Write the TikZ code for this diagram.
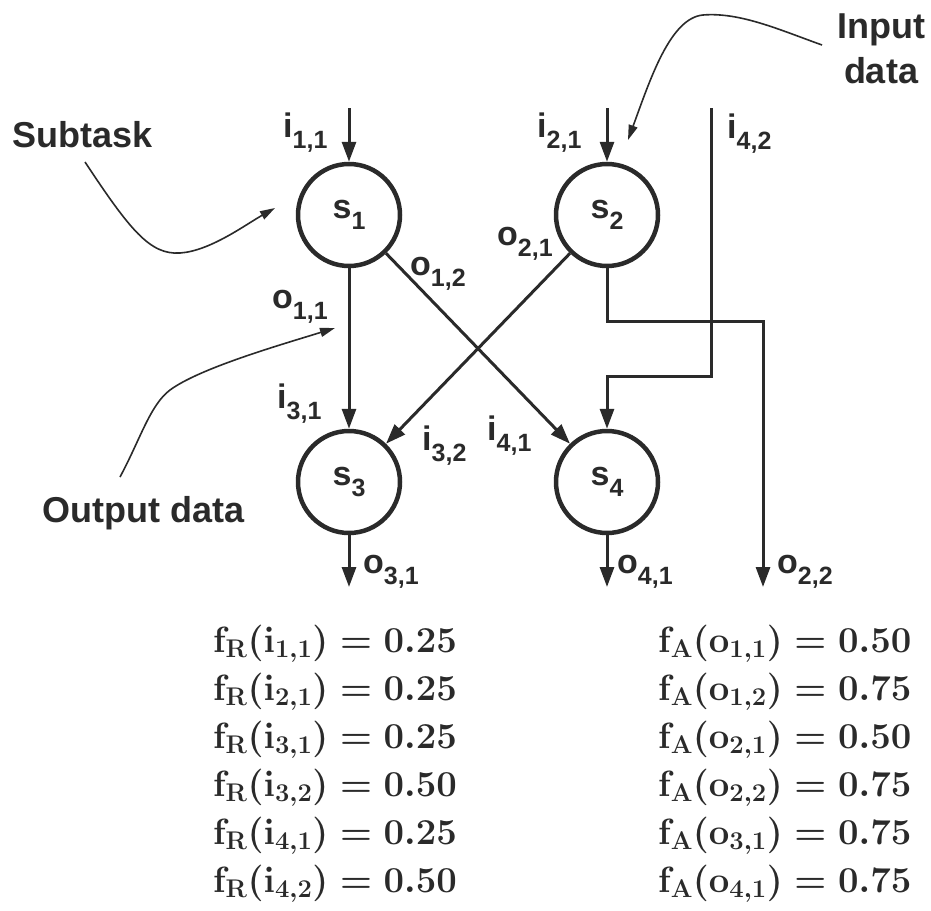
\RequirePackage{fix-cm}
\documentclass[tikz,border=0pt]{standalone}
\usepackage{fontspec}
\usepackage{amsmath}
\usetikzlibrary{arrows.meta}
\newfontfamily\lsans{Liberation Sans}
\definecolor{ink}{HTML}{2A2A2A}
\newcommand\lbl[2]{#1\raisebox{-0.33em}{\fontsize{25}{25}\selectfont #2}}
\newcommand\fml[4]{$\mathbf{f}_{\mathbf{#1}}(\mathbf{#2}_{\mathbf{#3}})=\mathbf{#4}$}
\tikzset{
  task/.style={circle, draw=ink, line width=4.5pt, minimum size=102pt, inner sep=0pt,
    font=\lsans\bfseries\fontsize{34}{34}\selectfont, text=ink},
  flow/.style={draw=ink, line width=3pt, -{Triangle[length=20pt,width=14pt]}},
  lab/.style={anchor=base west, inner sep=0pt, font=\lsans\bfseries\fontsize{34}{34}\selectfont, text=ink},
  annot/.style={anchor=base west, inner sep=0pt, font=\lsans\bfseries\fontsize{36}{36}\selectfont, text=ink},
  pointer/.style={draw=ink, line width=1.6pt, -{Triangle[length=15pt,width=9pt]}},
  formula/.style={anchor=base west, inner sep=0pt, font=\fontsize{36.5}{42}\selectfont\boldmath, text=ink}
}
\begin{document}
\begin{tikzpicture}[x=1pt,y=-1pt]
\useasboundingbox (0,0) rectangle (931,910);
% tasks
\node[task] (s1) at (349,215) {\lbl{s}{1}};
\node[task] (s2) at (607,215) {\lbl{s}{2}};
\node[task] (s3) at (349,482) {\lbl{s}{3}};
\node[task] (s4) at (607,482) {\lbl{s}{4}};
% coordinates
\coordinate (in11) at (349,108);
\coordinate (in21) at (607,108);
\coordinate (in42) at (711,108);
\coordinate (c42) at (711,376);
\coordinate (c22) at (763,321);
\coordinate (out22) at (763,587);
\coordinate (out31) at (349,587);
\coordinate (out41) at (607,587);
% connectors
\draw[flow] (in11) -- (s1);
\draw[flow] (in21) -- (s2);
\draw[flow] (in42) -- (c42) -| (s4);
\draw[flow] (s2.south) |- (c22) -- (out22);
\draw[flow] (s1) -- (s3);
\draw[flow] (s1) -- (s4);
\draw[flow] (s2) -- (s3);
\draw[flow] (s3) -- (out31);
\draw[flow] (s4) -- (out41);
% labels
\node[lab] (l-i11) at (283,137) {\lbl{i}{1,1}};
\node[lab] (l-i21) at (537,137) {\lbl{i}{2,1}};
\node[lab] (l-i42) at (727,138) {\lbl{i}{4,2}};
\node[lab] (l-o12) at (410,275) {\lbl{o}{1,2}};
\node[lab] (l-o21) at (497,245) {\lbl{o}{2,1}};
\node[lab] (l-o11) at (272,308) {\lbl{o}{1,1}};
\node[lab] (l-i31) at (277,408) {\lbl{i}{3,1}};
\node[lab] (l-i32) at (422,450) {\lbl{i}{3,2}};
\node[lab] (l-i41) at (487,440) {\lbl{i}{4,1}};
\node[lab] (l-o31) at (363,573) {\lbl{o}{3,1}};
\node[lab] (l-o41) at (617,573) {\lbl{o}{4,1}};
\node[lab] (l-o22) at (777,573) {\lbl{o}{2,2}};
% annotations
\node[annot] (subtask) at (12,147) {Subtask};
\node[annot, anchor=base] (input1) at (881,38) {Input};
\node[annot, anchor=base] (input2) at (881,83) {data};
\node[annot] (outdata) at (42,522) {Output data};
\coordinate (subA) at (85,162);
\coordinate (subB) at (275,208);
\draw[pointer] (subA) .. controls (130,230) and (150,255) .. (180,253)
  .. controls (210,251) and (245,225) .. (subB);
\coordinate (inA) at (822,45);
\coordinate (inB) at (628,140);
\draw[pointer] (inA) .. controls (780,30) and (740,12) .. (703,15)
  .. controls (670,18) and (650,80) .. (inB);
\coordinate (outA) at (120,477);
\coordinate (outB) at (335,328);
\draw[pointer] (outA) .. controls (140,440) and (150,405) .. (170,390)
  .. controls (200,368) and (280,345) .. (outB);
% formulas
\node[formula] (fl1) at (213,652) {\fml{R}{i}{1,1}{0.25}};
\node[formula] (fl2) at (213,700) {\fml{R}{i}{2,1}{0.25}};
\node[formula] (fl3) at (213,748) {\fml{R}{i}{3,1}{0.25}};
\node[formula] (fl4) at (213,796) {\fml{R}{i}{3,2}{0.50}};
\node[formula] (fl5) at (213,844) {\fml{R}{i}{4,1}{0.25}};
\node[formula] (fl6) at (213,892) {\fml{R}{i}{4,2}{0.50}};
\node[formula] (fr1) at (658,652) {\fml{A}{o}{1,1}{0.50}};
\node[formula] (fr2) at (658,700) {\fml{A}{o}{1,2}{0.75}};
\node[formula] (fr3) at (658,748) {\fml{A}{o}{2,1}{0.50}};
\node[formula] (fr4) at (658,796) {\fml{A}{o}{2,2}{0.75}};
\node[formula] (fr5) at (658,844) {\fml{A}{o}{3,1}{0.75}};
\node[formula] (fr6) at (658,892) {\fml{A}{o}{4,1}{0.75}};
\end{tikzpicture}
\end{document}
